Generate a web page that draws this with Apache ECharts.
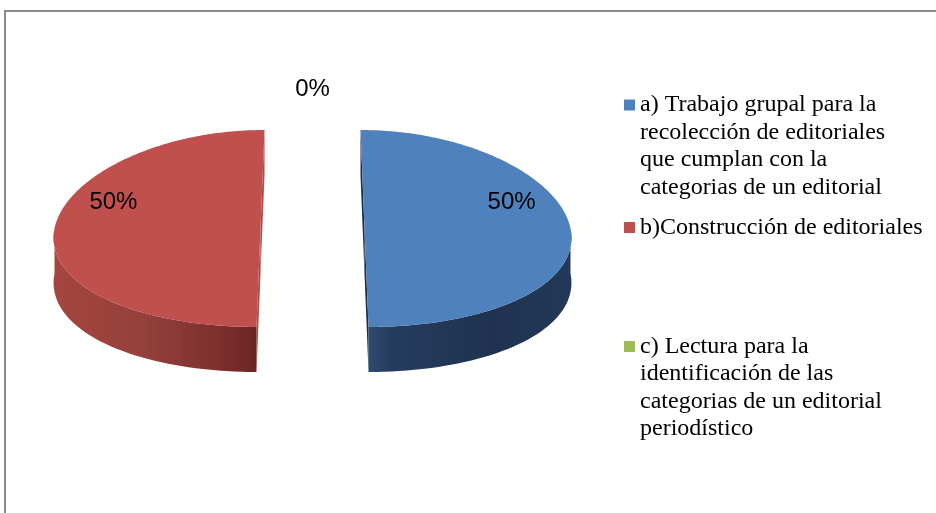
<!DOCTYPE html>
<html>
<head>
<meta charset="utf-8">
<script src="https://cdn.jsdelivr.net/npm/echarts@6/dist/echarts.min.js"></script>
<style>
  html, body { margin: 0; padding: 0; background: #fff; }
  #chart { width: 936px; height: 513px; }
</style>
</head>
<body>
<div id="chart"></div>
<script>
// ---- data ----
const categories = [
  'a) Trabajo grupal para la\nrecolección de editoriales\nque cumplan con la\ncategorias de un editorial',
  'b)Construcción de editoriales',
  'c) Lectura para la\nidentificación de las\ncategorias de un editorial\nperiodístico'
];
const values = [50, 50, 0];
const colors = ['#4F81BD', '#C0504D', '#9BBB59'];

// ---- styles (not data) ----
const wallStops = [
  [[0, '#2F4B70'], [0.12, '#243C5D'], [0.6, '#1F3350'], [1, '#233858']],
  [[0, '#A5453F'], [0.45, '#94403C'], [0.8, '#7E302D'], [1, '#6A2624']],
  [[0, '#7A9444'], [1, '#5E7334']]
];
const cutColors = ['#1C2E47', '#B04A47', '#6F8A3E'];

// ---- geometry of the tilted pie ----
const CX = 312.5, CY = 228.5, R = 206, RY = 98.5, DEPTH = 45, EXPLODE = 52, PERSP = 0.077;
const LABEL_LIFT = -26;
const LINE_H = 27.5;
const total = values.reduce((a, b) => a + b, 0);

function project(X, Y, h) {
  return [CX + X * (1 + PERSP * Y / R), CY + Y * RY / R + h * DEPTH];
}

function makeRender(idx) {
  return function (params, api) {
    const v = api.value(0);
    let before = 0;
    for (let i = 0; i < idx; i++) before += values[i];
    const deg = Math.PI / 180;
    const a0 = (-90 + before / total * 360) * deg;
    const a1 = a0 + v / total * 360 * deg;
    const mid = (a0 + a1) / 2;
    const ex = EXPLODE * Math.cos(mid), ey = EXPLODE * Math.sin(mid);
    const rim = (t, h) => project(ex + R * Math.cos(t), ey + R * Math.sin(t), h);
    const ctr = (h) => project(ex, ey, h);
    const children = [];

    if (v > 0) {
      // cut faces
      [a0, a1].forEach(function (t) {
        children.push({
          type: 'polygon',
          shape: { points: [ctr(0), rim(t, 0), rim(t, 1), ctr(1)] },
          style: { fill: cutColors[idx] }
        });
      });
      // outer wall, front half only
      for (let k = -1; k <= 1; k++) {
        const lo = Math.max(a0, k * 2 * Math.PI);
        const hi = Math.min(a1, k * 2 * Math.PI + Math.PI);
        if (hi > lo) {
          const n = Math.max(2, Math.ceil((hi - lo) / (2 * deg)));
          const top = [], bot = [];
          for (let s = 0; s <= n; s++) {
            const t = lo + (hi - lo) * s / n;
            top.push(rim(t, 0));
            bot.push(rim(t, 1));
          }
          children.push({
            type: 'polygon',
            shape: { points: top.concat(bot.reverse()) },
            style: {
              fill: {
                type: 'linear', x: 0, y: 0, x2: 1, y2: 0,
                colorStops: wallStops[idx].map(s => ({ offset: s[0], color: s[1] }))
              }
            }
          });
        }
      }
      // top face
      const n = Math.max(2, Math.ceil((a1 - a0) / (1 * deg)));
      const pts = [ctr(0)];
      for (let s = 0; s <= n; s++) pts.push(rim(a0 + (a1 - a0) * s / n, 0));
      children.push({
        type: 'polygon',
        shape: { points: pts },
        style: { fill: colors[idx] }
      });
    }

    // label
    const k = v > 0 ? 0.714 : 0.9;
    const lp = project(ex + k * R * Math.cos(mid), ey + k * R * Math.sin(mid), 0);
    children.push({
      type: 'text',
      x: lp[0], y: lp[1] + LABEL_LIFT,
      style: {
        text: Math.round(v / total * 100) + '%',
        fill: '#000',
        font: '24px "Liberation Sans", Arial, sans-serif',
        align: 'center',
        verticalAlign: 'middle'
      }
    });
    return { type: 'group', children: children };
  };
}

const series = categories.map(function (name, i) {
  return {
    type: 'custom',
    name: name,
    coordinateSystem: 'none',
    itemStyle: { color: colors[i] },
    renderItem: makeRender(i),
    data: [values[i]],
    animation: false
  };
});

// The legend centres its text block on the marker; leading empty lines
// keep the marker level with the first line, as in the original.
function legendFor(i, iconTop) {
  const lines = categories[i].split('\n').length;
  const blockH = (2 * lines - 1) * LINE_H;
  return {
    data: [categories[i]],
    left: 624,
    top: iconTop + 5.5 - blockH / 2,
    orient: 'vertical',
    icon: 'rect',
    itemWidth: 11,
    itemHeight: 11,
    padding: 0,
    selectedMode: false,
    formatter: function (name) {
      return '\n'.repeat(lines - 1) + name;
    },
    textStyle: {
      fontFamily: '"Liberation Serif", "Times New Roman", serif',
      fontSize: 24,
      lineHeight: LINE_H,
      color: '#000'
    }
  };
}

const chart = echarts.init(document.getElementById('chart'));
chart.setOption({
  backgroundColor: '#ffffff',
  animation: false,
  graphic: [{
    type: 'rect',
    shape: { x: 5, y: 11, width: 1200, height: 800 },
    style: { fill: 'none', stroke: '#898989', lineWidth: 2 },
    silent: true
  }],
  legend: [legendFor(0, 99.5), legendFor(1, 222), legendFor(2, 341)],
  series: series
});
</script>
</body>
</html>
